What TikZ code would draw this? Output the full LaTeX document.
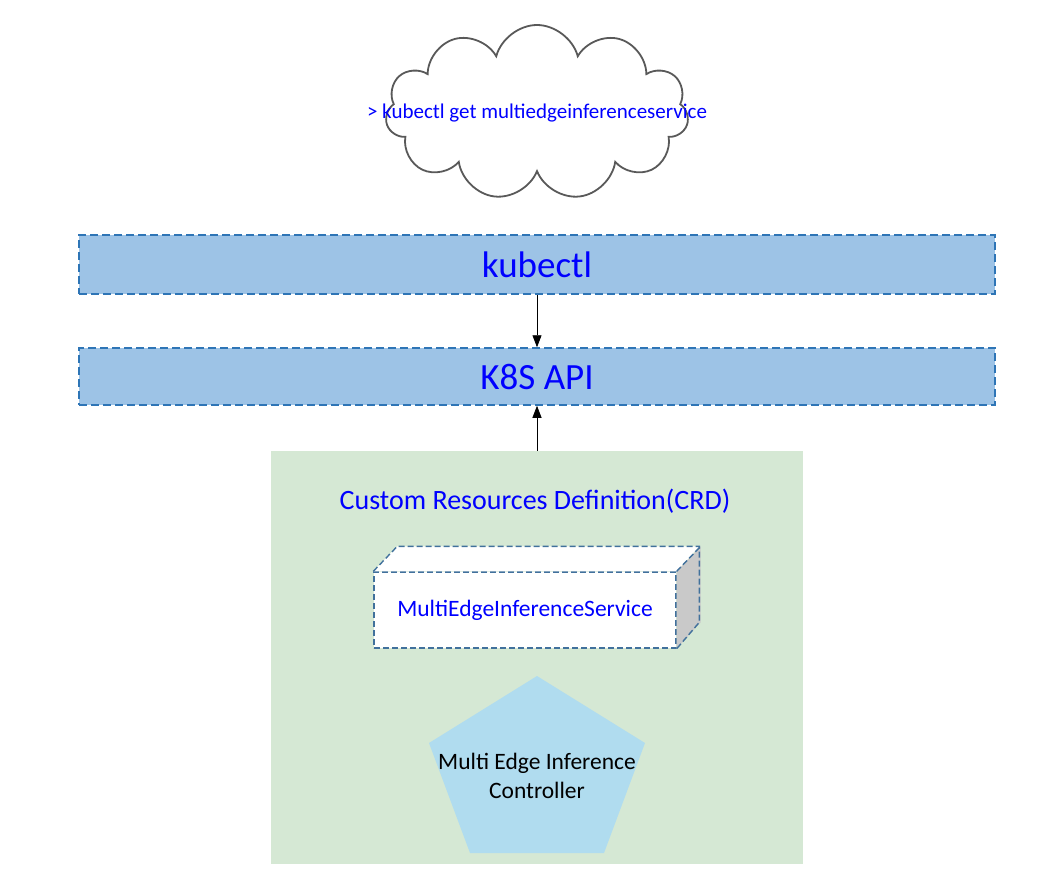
\documentclass[tikz,border=0pt]{standalone}
\usepackage{fontspec}
\setmainfont{Carlito}
\usetikzlibrary{arrows.meta,shapes.symbols}

\definecolor{barfill}{HTML}{9DC3E6}
\definecolor{barline}{HTML}{2E75B6}
\definecolor{crdfill}{HTML}{D5E8D4}
\definecolor{cubeline}{HTML}{41719C}
\definecolor{cubeside}{HTML}{C9C9C9}
\definecolor{ctrlfill}{HTML}{B0DCEF}
\definecolor{cloudline}{HTML}{595959}
\definecolor{txtblue}{HTML}{0000FF}

\begin{document}
\begin{tikzpicture}[x=1pt,y=-1pt,
    bar/.style={draw=barline,fill=barfill,line width=1.5pt,dash pattern=on 8pt off 4pt,
      minimum width=916pt,inner sep=0pt,text=txtblue,font=\fontsize{37}{40}\selectfont},
    cubeline/.style={draw=cubeline,line width=1.4pt,dash pattern=on 6pt off 3pt},
    arr/.style={-{Triangle[width=9pt,length=12pt]},line width=0.8pt}]
  \useasboundingbox (0,0) rectangle (1051,880);
  % cloud with command
  \node[cloud,cloud puffs=11,aspect=1.75,draw=cloudline,line width=1.8pt,fill=white,
    minimum width=303pt,minimum height=175pt,inner sep=0pt] (cloud) at (537,112.5) {};
  \node[text=txtblue,font=\fontsize{21}{24}\selectfont] (cmd) at (537,113)
    {> kubectl get multiedgeinferenceservice};
  % layers
  \node[bar,minimum height=59pt] (kubectl) at (537,264.5) {kubectl};
  \node[bar,minimum height=57pt] (k8s) at (537,376.5) {K8S API};
  \node[fill=crdfill,minimum width=532pt,minimum height=413pt,inner sep=0pt] (crd) at (537,657.5) {};
  \node[text=txtblue,font=\fontsize{28}{32}\selectfont] (crdtitle) at (535,501)
    {Custom Resources Definition(CRD)};
  % cube
  \node[fill=white,cubeline,minimum width=302pt,minimum height=76pt,inner sep=0pt,
    text=txtblue,font=\fontsize{23.5}{26}\selectfont] (mei) at (525,610) {MultiEdgeInferenceService};
  \fill[white] (mei.north west) -- ++(24,-25) -- ++(302,0) -- (mei.north east) -- cycle;
  \fill[cubeside] (mei.north east) -- ++(24,-25) -- ++(0,76) -- (mei.south east) -- cycle;
  \draw[cubeline] (mei.north west) -- ++(24,-25) -- ++(302,0) -- ++(0,76) -- (mei.south east);
  \draw[cubeline] (mei.north east) -- ++(24,-25);
  % controller
  \fill[ctrlfill] (537,676) -- (645,743) -- (604,853) -- (470,853) -- (429,743) -- cycle;
  \node[align=center,font=\fontsize{23.5}{29}\selectfont] (ctrl) at (537,776)
    {Multi Edge Inference\\Controller};
  % arrows
  \draw[arr] (kubectl.south) -- (k8s.north);
  \draw[arr] (crd.north) -- (k8s.south);
\end{tikzpicture}
\end{document}
